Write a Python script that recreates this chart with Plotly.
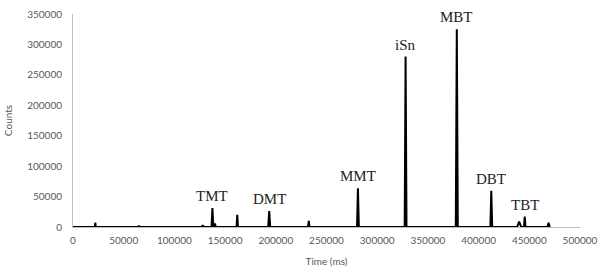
import plotly.graph_objects as go

# Peak data (retention time in ms, counts)
peak_times = [22000, 65000, 128000, 137500, 140000, 162000, 193500, 232500, 281000, 328000, 378500, 412500, 440000, 445500, 469000]
peak_heights = [7000, 1500, 2000, 31000, 6000, 20000, 26000, 10000, 63500, 280000, 325000, 59500, 9000, 17000, 7000]
peak_halfwidths = [500, 1500, 2000, 900, 800, 700, 1000, 700, 900, 900, 1000, 900, 2000, 800, 1200]

labels = ["TMT", "DMT", "MMT", "iSn", "MBT", "DBT", "TBT"]
label_x = [137500, 193500, 281000, 328000, 378500, 412500, 445500]
label_y = [31000, 26000, 63500, 280000, 325000, 59500, 17000]

x_start, x_end = 0, 471000

# build trace: baseline with triangular spikes
xs = [x_start]
ys = [0]
for t, h, w in sorted(zip(peak_times, peak_heights, peak_halfwidths)):
    xs += [t - w, t, t + w]
    ys += [0, h, 0]
xs.append(x_end)
ys.append(0)

fig = go.Figure()
fig.add_trace(go.Scatter(x=xs, y=ys, mode="lines",
                         line=dict(color="black", width=2), hoverinfo="skip"))

for lab, lx, ly in zip(labels, label_x, label_y):
    fig.add_annotation(x=lx, y=ly, text=lab, showarrow=False, yanchor="bottom",
                       yshift=2, font=dict(family="Liberation Serif", size=15, color="#222222"))

fig.update_layout(
    width=600, height=271,
    margin=dict(l=73, r=20, t=14, b=44),
    paper_bgcolor="white", plot_bgcolor="white",
    showlegend=False,
    font=dict(family="Lato", size=10, color="#595959"),
)
fig.update_xaxes(range=[0, 500000], tickvals=list(range(0, 500001, 50000)),
                 ticktext=[str(v) for v in range(0, 500001, 50000)],
                 showgrid=False, zeroline=False, showline=True, linecolor="#bfbfbf",
                 linewidth=1, ticks="", automargin=False, ticklabelstandoff=4,
                 ticklabeloverflow="allow",
                 tickfont=dict(family="Lato", size=10, color="#595959"),
                 title=dict(text="Time (ms)", font=dict(family="Lato", size=10, color="#595959"), standoff=12))
fig.update_yaxes(range=[0, 350000], tickvals=list(range(0, 350001, 50000)),
                 ticktext=[str(v) for v in range(0, 350001, 50000)],
                 showgrid=False, zeroline=False, showline=True, linecolor="#bfbfbf",
                 linewidth=1, ticks="", automargin=False, ticklabelstandoff=8,
                 ticklabeloverflow="allow",
                 tickfont=dict(family="Lato", size=10, color="#595959"),
                 title=dict(text="Counts", font=dict(family="Lato", size=10, color="#595959"), standoff=12))

# remove the default page margin so the figure fills the window exactly
fig.write_html("out.html", config={"displayModeBar": False},
               post_script="document.body.style.margin='0';")
